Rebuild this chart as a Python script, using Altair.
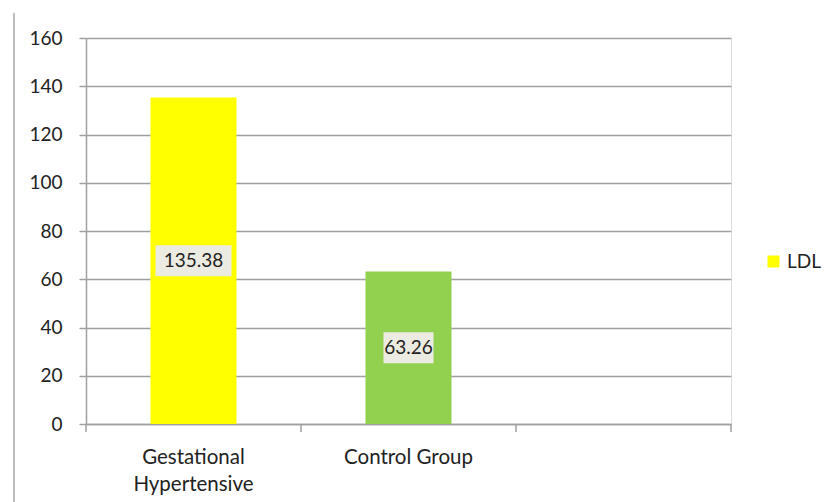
import altair as alt
import pandas as pd

# LDL levels by group
groups = ["Gestational Hypertensive", "Control Group", ""]
values = [135.38, 63.26]
bar_colors = ["#FFFF00", "#92D050"]
value_labels = ["135.38", "63.26"]
label_box_widths = [76, 50]
series_name = "LDL"
band_edges = [0, 1, 2, 3]

df = pd.DataFrame({
    "group": groups[:2],
    "value": values,
    "color": bar_colors,
    "label": value_labels,
})

FONT = "Lato"
GRID = "#A0A0A0"
TEXT = "#222222"

x_enc = alt.X(
    "group:N",
    scale=alt.Scale(domain=groups, paddingInner=0.6, paddingOuter=0.3),
    axis=alt.Axis(
        title=None,
        labelAngle=0,
        labelFont=FONT,
        labelFontSize=20.5,
        labelColor=TEXT,
        labelPadding=23,
        labelLineHeight=27,
        labelExpr="datum.label == 'Gestational Hypertensive' ? ['Gestational', 'Hypertensive'] : datum.label",
        ticks=False,
        domainColor=GRID,
        domainWidth=1.5,
        grid=False,
    ),
)

y_enc = alt.Y(
    "value:Q",
    scale=alt.Scale(domain=[0, 160], nice=False),
    axis=alt.Axis(
        title=None,
        values=list(range(0, 161, 20)),
        labelFont=FONT,
        labelFontSize=19,
        labelColor=TEXT,
        labelPadding=17,
        tickSize=7,
        tickColor=GRID,
        tickWidth=1.5,
        domainColor=GRID,
        domainWidth=1.5,
        gridColor=GRID,
        gridWidth=1.5,
    ),
)

bars = alt.Chart(df).mark_bar().encode(
    x=x_enc,
    y=y_enc,
    fill=alt.Fill("color:N", scale=None, legend=None),
)

# category separators below the x axis
edges = alt.Chart(pd.DataFrame({"edge": band_edges})).mark_rule(
    color=GRID, strokeWidth=1.5
).encode(
    x=alt.X("edge:Q", scale=alt.Scale(domain=[0, 3], nice=False, zero=False), axis=None),
    y=alt.value(386),
    y2=alt.value(394),
)

mid = alt.Chart(df).transform_calculate(mid="datum.value / 2")

boxes = alt.layer(*[
    mid.transform_filter(alt.datum.group == g).mark_rect(width=w, height=31, fill="#ECEBE1").encode(
        x=alt.X("group:N"),
        y=alt.Y("mid:Q"),
    )
    for g, w in zip(groups[:2], label_box_widths)
])

texts = mid.mark_text(font=FONT, fontSize=19, color=TEXT, baseline="middle").encode(
    x=alt.X("group:N"),
    y=alt.Y("mid:Q"),
    text="label:N",
)

legend_layer = alt.Chart(pd.DataFrame({"series": [series_name]})).mark_square(opacity=0).encode(
    color=alt.Color(
        "series:N",
        scale=alt.Scale(domain=[series_name], range=["#FFFF00"]),
        legend=alt.Legend(
            title=None,
            orient="none",
            legendX=678,
            legendY=214,
            symbolType="square",
            symbolSize=144,
            symbolOpacity=1,
            symbolStrokeWidth=0,
            labelFont=FONT,
            labelFontSize=19,
            labelColor=TEXT,
            labelOffset=4,
        ),
    ),
)

frame = alt.Chart(pd.DataFrame({"v": [0]})).mark_rule(color="#A8A8A8", strokeWidth=1.5).encode(
    x=alt.value(-72), y=alt.value(-25), y2=alt.value(470)
)

main = alt.layer(bars, boxes, texts)

chart = alt.layer(frame, main, edges, legend_layer).resolve_scale(x="independent").properties(
    width=645,
    height=386,
    padding={"left": 86, "top": 38, "right": 101, "bottom": 78},
    autosize=alt.AutoSizeParams(type="none"),
).configure_view(stroke=None).configure(background="white")

chart.save("out.html", embed_options={"renderer": "svg", "actions": False})
